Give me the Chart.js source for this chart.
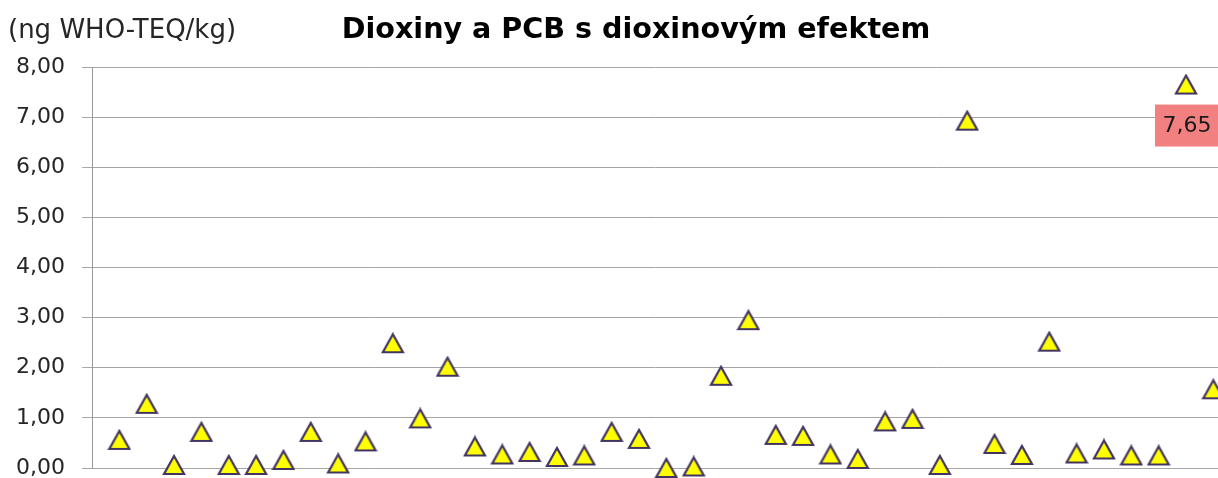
<!DOCTYPE html>
<html>
<head>
<meta charset="utf-8">
<script src="https://cdn.jsdelivr.net/npm/chart.js@4/dist/chart.umd.min.js"></script>
<style>
  body { margin: 0; background: #fff; }
  #wrap { width: 1218px; height: 478px; }
</style>
</head>
<body>
<div id="wrap"><canvas id="myChart" width="1218" height="478"></canvas></div>
<script>
// values, one per sample, left to right
const values = [
  0.56, 1.28, 0.06, 0.72, 0.06, 0.06, 0.16, 0.72, 0.09, 0.53,
  2.49, 0.99, 2.02, 0.43, 0.27, 0.32, 0.22, 0.25, 0.72, 0.58,
  0.00, 0.03, 1.84, 2.95, 0.66, 0.64, 0.27, 0.18, 0.93, 0.98,
  0.06, 6.93, 0.48, 0.26, 2.52, 0.29, 0.37, 0.25, 0.25, 7.65,
  1.57
];
const samples = values.map((v, i) => i + 1);
const yTicks = [0, 1, 2, 3, 4, 5, 6, 7, 8];
const chartTitle = 'Dioxiny a PCB s dioxinovým efektem';
const unitLabel = '(ng WHO-TEQ/kg)';
const labelledIndex = 39;   // the point carrying the "7,65" label

const fmt = v => v.toFixed(2).replace('.', ',');

// triangle marker centred on its bounding box (like the Excel one)
const makeMarker = () => {
  const c = document.createElement('canvas');
  c.width = 24; c.height = 22;
  const g = c.getContext('2d');
  g.beginPath();
  g.moveTo(12, 2);
  g.lineTo(22, 20);
  g.lineTo(2, 20);
  g.closePath();
  g.fillStyle = '#ffff00';
  g.fill();
  g.lineWidth = 2.2;
  g.lineJoin = 'miter';
  g.strokeStyle = '#433562';
  g.stroke();
  return c;
};

const textPlugin = {
  id: 'texts',
  afterDraw(chart) {
    const ctx = chart.ctx;
    ctx.save();
    ctx.fillStyle = '#000';
    ctx.font = 'bold 28.6px "DejaVu Sans"';
    ctx.textAlign = 'center';
    ctx.textBaseline = 'alphabetic';
    ctx.fillText(chartTitle, 636, 38);

    ctx.fillStyle = '#262626';
    ctx.font = '26px "DejaVu Sans"';
    ctx.textAlign = 'left';
    ctx.fillText(unitLabel, 8, 38);

    // data label under the highest point
    const pt = chart.getDatasetMeta(0).data[labelledIndex];
    if (pt) {
      const w = 64, h = 42;
      const cx = pt.x + 1, cy = pt.y + 41;
      ctx.fillStyle = '#f28080';
      ctx.fillRect(cx - w / 2, cy - h / 2, w, h);
      ctx.fillStyle = '#1a1a1a';
      ctx.font = '22px "DejaVu Sans"';
      ctx.textAlign = 'center';
      ctx.textBaseline = 'middle';
      ctx.fillText(fmt(values[labelledIndex]), cx, cy + 1);
    }
    ctx.restore();
  }
};

new Chart(document.getElementById('myChart').getContext('2d'), {
  type: 'scatter',
  data: {
    datasets: [{
      data: samples.map((s, i) => ({ x: s, y: values[i] })),
      pointStyle: makeMarker(),
      pointRadius: 11,
      pointHoverRadius: 11,
      clip: false
    }]
  },
  options: {
    responsive: false,
    animation: false,
    events: [],
    layout: { autoPadding: false, padding: { top: 67, bottom: 10, left: 0, right: 0 } },
    plugins: { legend: { display: false }, tooltip: { enabled: false }, title: { display: false } },
    scales: {
      x: { type: 'linear', display: false, min: 0, max: 41.17 },
      y: {
        min: 0, max: 8,
        afterFit: s => {
          s.width = 92;
          s.paddingTop = 0;
          s.paddingBottom = 0;
        },
        afterBuildTicks: s => { s.ticks = yTicks.map(v => ({ value: v })); },
        border: { display: true, color: '#999999', width: 1 },
        grid: { color: '#a6a6a6', lineWidth: 1, tickLength: 10, drawTicks: true },
        ticks: {
          padding: 17,
          color: '#262626',
          font: { family: 'DejaVu Sans', size: 22 },
          callback: v => fmt(v)
        }
      }
    }
  },
  plugins: [textPlugin]
});
</script>
</body>
</html>
